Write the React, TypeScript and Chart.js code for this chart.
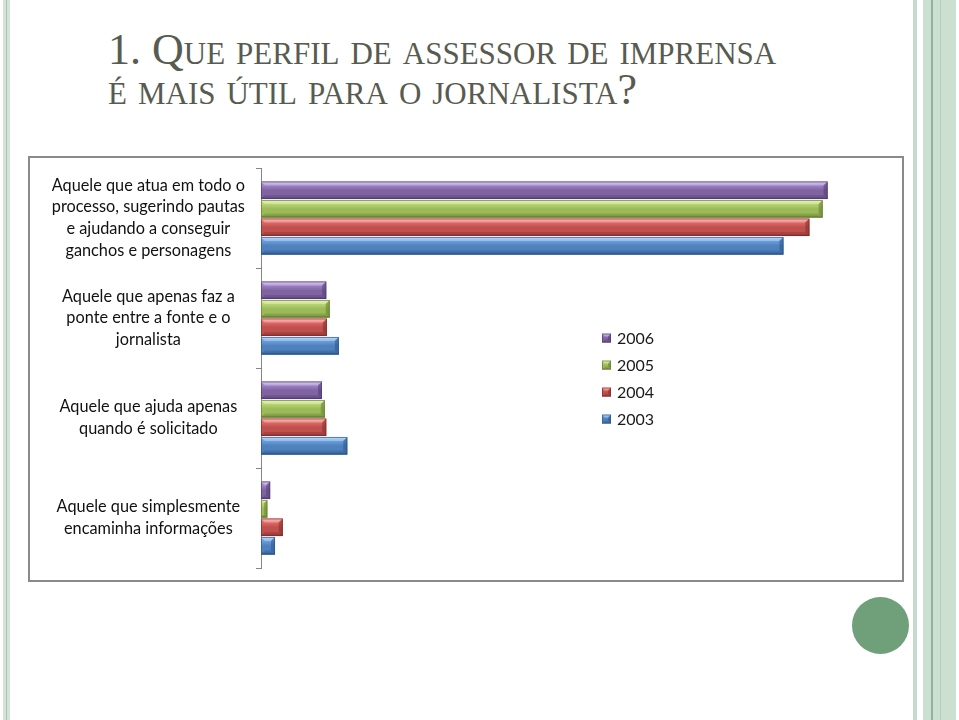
import React, { useEffect, useRef } from "react";
import { Chart, registerables } from "chart.js";

Chart.register(...registerables);

// ---- data ----
const categories: string[][] = [
  ["Aquele que atua em todo o", "processo, sugerindo pautas", "e ajudando a conseguir", "ganchos e personagens"],
  ["Aquele que apenas faz a", "ponte entre a fonte e o", "jornalista"],
  ["Aquele que ajuda apenas", "quando é solicitado"],
  ["Aquele que simplesmente", "encaminha informações"],
];
const seriesNames = ["2006", "2005", "2004", "2003"];
const values2006 = [80.8, 9.3, 8.7, 1.3];
const values2005 = [80.1, 9.8, 9.1, 0.9];
const values2004 = [78.2, 9.4, 9.3, 3.1];
const values2003 = [74.5, 11.1, 12.3, 2.0];
const seriesValues = [values2006, values2005, values2004, values2003];

// ---- styles ----
const palettes = [
  { light: "#cbb6ea", hi: "#a58ad0", base: "#8064a2", dark: "#523c72" },
  { light: "#e2f3a6", hi: "#c2dc7a", base: "#9bbb59", dark: "#667e33" },
  { light: "#ffb0aa", hi: "#e8706b", base: "#c0504d", dark: "#832d2b" },
  { light: "#a9d3fa", hi: "#72a8e6", base: "#4f81bd", dark: "#2b558c" },
];

function paintBar(ctx: CanvasRenderingContext2D, x: number, y: number, w: number, h: number, p: any) {
  if (w <= 0 || h <= 0) return;
  ctx.save();
  const g = ctx.createLinearGradient(0, y, 0, y + h);
  g.addColorStop(0, p.light);
  g.addColorStop(0.15, p.hi);
  g.addColorStop(0.5, p.base);
  g.addColorStop(0.85, p.base);
  g.addColorStop(1, p.dark);
  ctx.fillStyle = g;
  ctx.fillRect(x, y, w, h);
  const b = Math.min(4, w / 2, h / 3);
  ctx.globalAlpha = 0.3;
  ctx.fillStyle = "#ffffff";
  ctx.beginPath();
  ctx.moveTo(x, y);
  ctx.lineTo(x + w, y);
  ctx.lineTo(x + w - b, y + b);
  ctx.lineTo(x + b, y + b);
  ctx.closePath();
  ctx.fill();
  ctx.globalAlpha = 0.35;
  ctx.fillStyle = p.dark;
  ctx.beginPath();
  ctx.moveTo(x, y + h);
  ctx.lineTo(x + w, y + h);
  ctx.lineTo(x + w - b, y + h - b);
  ctx.lineTo(x + b, y + h - b);
  ctx.closePath();
  ctx.fill();
  ctx.globalAlpha = 0.55;
  ctx.beginPath();
  ctx.moveTo(x + w - b, y + b);
  ctx.lineTo(x + w, y);
  ctx.lineTo(x + w, y + h);
  ctx.lineTo(x + w - b, y + h - b);
  ctx.closePath();
  ctx.fill();
  ctx.globalAlpha = 0.7;
  ctx.strokeStyle = p.dark;
  ctx.lineWidth = 1;
  ctx.strokeRect(x + 0.5, y + 0.5, w - 1, h - 1);
  ctx.restore();
}

const barPainter = {
  id: "barPainter",
  afterDatasetsDraw(chart: any) {
    const ctx = chart.ctx;
    chart.data.datasets.forEach((_ds: any, di: number) => {
      const meta = chart.getDatasetMeta(di);
      if (meta.hidden) return;
      const pal = palettes[di];
      meta.data.forEach((el: any) => {
        const { x, y, base, height } = el.getProps(["x", "y", "base", "height"], true);
        const left = Math.min(x, base);
        const right = Math.max(x, base);
        paintBar(ctx, left, y - height / 2, right - left, height, pal);
      });
    });
  },
};

const customLegend = {
  id: "customLegend",
  afterDraw(chart: any, _args: any, opts: any) {
    const ctx = chart.ctx;
    const area = chart.chartArea;
    const x0 = area.left + opts.offsetX;
    const y0 = area.top + opts.offsetY;
    ctx.save();
    ctx.font = opts.font;
    ctx.textBaseline = "middle";
    ctx.textAlign = "left";
    chart.data.datasets.forEach((ds: any, i: number) => {
      const cy = y0 + i * opts.rowGap;
      paintBar(ctx, x0, cy - 4.5, 9, 9, palettes[i]);
      ctx.fillStyle = opts.color;
      ctx.fillText(ds.label, x0 + 15, cy + 0.5);
    });
    ctx.restore();
  },
};

export default function App() {
  const canvasRef = useRef<HTMLCanvasElement | null>(null);

  useEffect(() => {
    if (!canvasRef.current) return;
    const chart = new Chart(canvasRef.current, {
      type: "bar",
      data: {
        labels: categories,
        datasets: seriesNames.map((name, i) => ({
          label: name,
          data: seriesValues[i],
          backgroundColor: palettes[i].base,
          borderWidth: 0,
          categoryPercentage: 0.74,
          barPercentage: 0.95,
        })),
      },
      options: {
        indexAxis: "y",
        animation: false,
        responsive: false,
        layout: { padding: { top: 10, bottom: 12, left: 0, right: 45 } },
        plugins: {
          legend: { display: false },
          tooltip: { enabled: false },
          customLegend: {
            offsetX: 341,
            offsetY: 170,
            rowGap: 27,
            font: "16px Lato",
            color: "#1a1a1a",
          },
        } as any,
        scales: {
          x: { display: false, min: 0, max: 85 },
          y: {
            type: "category",
            offset: true,
            grid: {
              offset: true,
              drawOnChartArea: false,
              drawTicks: true,
              tickLength: 5,
              color: "#868686",
            },
            border: { display: true, color: "#868686", width: 1 },
            ticks: {
              crossAlign: "center",
              padding: 11,
              color: "#111111",
              font: { family: "Lato", size: 16.3, lineHeight: 1.33 },
            },
            afterFit: (scale: any) => {
              scale.width = 231;
              scale.paddingTop = 0;
              scale.paddingBottom = 0;
            },
          },
        },
      },
      plugins: [barPainter, customLegend],
    });
    return () => chart.destroy();
  }, []);

  const stripe = (left: number, width: number, color: string): React.CSSProperties => ({
    position: "absolute",
    left,
    top: 0,
    width,
    height: 720,
    background: color,
  });

  return (
    <div style={{ position: "absolute", left: 0, top: 0, width: 959, height: 720, background: "#ffffff", overflow: "hidden" }}>
      <div style={stripe(3, 7, "#d3e4d7")} />
      <div style={stripe(6, 1, "#a7c5b0")} />
      <div style={stripe(913, 4, "#c6dacb")} />
      <div style={stripe(923, 33, "#cce0d1")} />
      <div style={stripe(931, 2, "#8fb39b")} />
      <div style={stripe(940, 1, "#b6cfbd")} />
      <div
        style={{
          position: "absolute",
          left: 852,
          top: 597,
          width: 57,
          height: 57,
          borderRadius: "50%",
          background: "#6fa07a",
        }}
      />
      <div
        style={{
          position: "absolute",
          left: 108,
          top: 30,
          fontFamily: "'Liberation Serif', serif",
          fontVariant: "small-caps",
          fontSize: 44,
          lineHeight: "40px",
          color: "#585b4f",
          whiteSpace: "nowrap",
          transformOrigin: "0 0",
          transform: "scaleX(1.0)",
        }}
      >
        <div>1. Que perfil de assessor de imprensa</div>
        <div>é mais útil para o jornalista?</div>
      </div>
      <div
        style={{
          position: "absolute",
          left: 28,
          top: 156,
          width: 876,
          height: 426,
          boxSizing: "border-box",
          border: "2px solid #8a8a8a",
          background: "#ffffff",
        }}
      />
      <canvas
        ref={canvasRef}
        width={872}
        height={422}
        style={{ position: "absolute", left: 30, top: 158, width: 872, height: 422 }}
      />
    </div>
  );
}
